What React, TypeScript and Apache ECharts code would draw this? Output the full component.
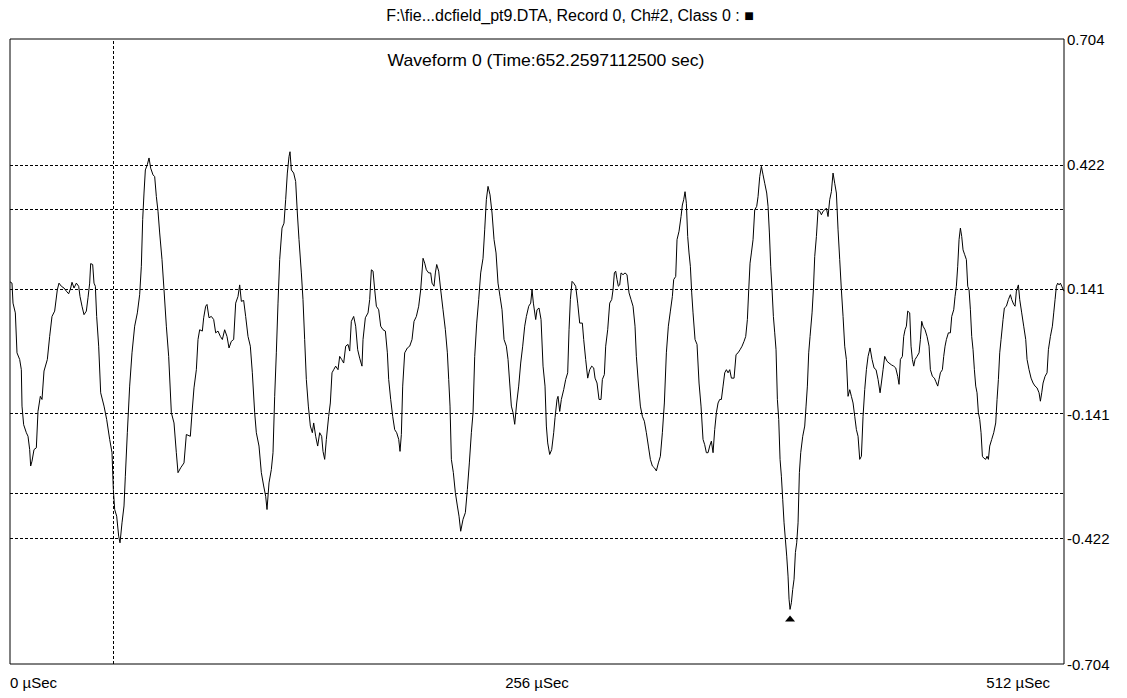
import React, { useEffect, useRef } from "react";
import * as echarts from "echarts";

const chartTitle = "F:\\fie...dcfield_pt9.DTA, Record 0, Ch#2, Class 0 : ■";
const waveformTitle = "Waveform 0 (Time:652.2597112500 sec)";
const xTickValues = [0, 256, 512];
const xUnit = "µSec";
const yTickValues = [-0.704, -0.422, -0.141, 0.141, 0.422, 0.704];
const gridLineValues = [0.422, 0.316, 0.141, -0.141, -0.316, -0.422];
const cursorTime = 50;
const minMarker: [number, number] = [378.92, -0.581];

// waveform samples [time µs, value]
const wave1: [number, number][] = [
  [0, 0.157], [0.97, 0.154], [1.46, 0.109], [2.59, 0.087], [3.4, -0.003], [4.7, -0.018], [5.51, -0.041], [5.83, -0.123],
  [6.64, -0.165], [7.94, -0.183], [8.75, -0.191], [9.56, -0.221], [10.04, -0.258], [10.69, -0.247], [11.66, -0.221],
  [12.79, -0.217], [13.6, -0.135], [14.74, -0.101], [15.55, -0.108], [16.52, -0.044], [18.14, -0.018], [19.27, 0.034],
  [20.4, 0.079], [21.7, 0.091], [22.99, 0.139], [23.8, 0.154], [24.94, 0.147], [26.23, 0.143], [27.37, 0.136],
  [28.5, 0.13], [29.47, 0.143], [30.12, 0.156], [31.09, 0.143], [32.23, 0.154], [33.36, 0.147], [34.01, 0.124],
  [34.98, 0.102], [35.95, 0.083], [37.08, 0.091], [37.89, 0.121], [38.7, 0.154], [39.19, 0.198], [40.16, 0.196],
  [40.81, 0.154], [41.46, 0.147], [42.1, 0.079], [43.08, 0.012], [44.05, -0.093], [45.67, -0.123], [46.96, -0.153],
  [48.42, -0.198], [49.55, -0.228], [50.2, -0.311], [50.85, -0.356], [51.82, -0.371], [52.79, -0.416], [53.44, -0.431],
  [54.41, -0.386], [55.38, -0.348], [56.03, -0.281], [57.0, -0.183], [58.13, -0.078], [59.27, -0.003], [60.56, 0.057],
  [61.86, 0.087], [62.99, 0.128], [63.8, 0.192], [64.45, 0.297], [65.1, 0.357], [65.75, 0.409], [66.72, 0.421],
  [67.53, 0.436], [68.34, 0.413], [69.47, 0.398], [70.28, 0.394], [71.09, 0.349], [71.9, 0.316], [72.71, 0.267],
  [73.84, 0.207], [74.81, 0.139], [75.95, 0.057], [77.08, -0.011], [78.38, -0.138], [79.67, -0.161], [80.8, -0.228],
  [81.61, -0.273], [82.91, -0.262], [84.53, -0.251], [85.66, -0.187],
];
const wave2: [number, number][] = [
  [87.6, -0.191], [88.41, -0.138], [89.38, -0.082], [90.52, -0.041], [91.33, 0.027], [92.14, 0.049], [93.43, 0.046],
  [94.08, 0.076], [95.05, 0.102], [95.7, 0.106], [96.67, 0.076], [97.8, 0.079], [98.94, 0.072], [99.91, 0.042],
  [101.04, 0.046], [102.18, 0.034], [103.15, 0.027], [104.28, 0.049], [105.41, 0.034], [106.39, 0.008], [107.52, 0.023],
  [108.65, 0.027], [109.63, 0.109], [110.76, 0.124], [111.57, 0.15], [112.38, 0.113], [113.51, 0.115], [114.48, 0.079],
  [115.62, 0.034], [116.75, 0.012], [117.72, -0.048], [118.86, -0.138], [119.66, -0.183], [120.96, -0.213],
  [122.09, -0.273], [123.23, -0.303], [124.2, -0.326], [124.85, -0.356], [125.82, -0.296], [126.95, -0.266],
  [127.76, -0.228], [128.57, -0.101], [129.38, -0.003], [130.19, 0.109], [131.0, 0.207], [132.13, 0.278], [133.1, 0.289],
  [133.91, 0.342], [134.72, 0.402], [135.53, 0.439], [136.02, 0.45], [136.67, 0.409], [137.8, 0.402], [138.77, 0.383],
  [139.58, 0.312], [140.39, 0.252], [141.53, 0.177], [142.33, 0.117], [143.14, 0.027], [143.95, -0.063],
  [144.93, -0.123], [145.9, -0.168], [146.87, -0.183], [147.52, -0.161], [148.49, -0.191], [149.46, -0.213],
  [150.43, -0.183], [151.4, -0.191], [152.05, -0.225], [152.86, -0.243], [153.67, -0.198], [154.8, -0.146],
  [155.61, -0.116], [156.42, -0.048], [157.23, -0.041], [158.2, -0.033], [159.34, -0.041], [160.15, -0.011],
  [161.12, -0.018], [162.09, -0.026], [163.06, 0.012], [164.2, 0.016], [165.01, 0.001], [165.81, 0.068], [166.95, 0.079],
  [167.92, 0.057], [168.89, 0.004], [169.86, -0.015], [170.98, -0.033],
];
const wave3: [number, number][] = [
  [171.49, 0.027], [172.62, 0.076], [173.92, 0.087], [174.73, 0.117], [175.54, 0.184], [176.35, 0.181], [177.16, 0.139],
  [177.97, 0.102], [179.1, 0.094], [180.07, 0.057], [181.2, 0.049], [182.34, 0.046], [183.31, -0.003], [183.96, -0.063],
  [184.93, -0.108], [185.9, -0.146], [186.87, -0.176], [187.84, -0.183], [188.82, -0.198], [189.46, -0.225],
  [190.11, -0.187], [190.76, -0.078], [191.73, -0.003], [193.03, 0.008], [194.16, 0.012], [195.29, 0.027],
  [196.26, 0.068], [197.4, 0.079], [198.53, 0.102], [199.5, 0.139], [200.64, 0.21], [201.45, 0.199], [202.26, 0.184],
  [203.39, 0.177], [204.36, 0.177], [205.01, 0.154], [205.98, 0.147], [206.63, 0.177], [207.28, 0.196], [208.25, 0.181],
  [209.22, 0.139], [210.35, 0.094], [211.49, 0.049], [212.46, -0.003], [213.11, -0.063], [213.75, -0.123],
  [214.4, -0.243], [215.37, -0.273], [216.34, -0.318], [217.32, -0.348], [218.12, -0.371], [218.93, -0.405],
  [220.07, -0.378], [221.2, -0.363], [222.17, -0.311], [223.14, -0.251], [224.12, -0.183], [224.93, -0.138],
  [225.74, -0.011], [226.71, 0.064], [227.68, 0.117], [228.65, 0.177], [229.78, 0.21], [230.59, 0.274], [231.4, 0.342],
  [232.21, 0.372], [233.18, 0.353], [234.16, 0.312], [235.13, 0.252], [236.1, 0.222], [237.07, 0.154], [238.04, 0.124],
  [239.01, 0.094], [239.99, 0.027], [241.12, 0.012], [241.93, -0.018], [242.74, -0.071], [243.55, -0.123],
  [244.36, -0.138], [245.17, -0.164], [246.14, -0.116], [247.11, -0.078], [248.08, -0.026], [249.05, 0.012],
  [250.03, 0.057], [250.84, 0.079], [251.97, 0.102], [252.94, 0.109], [253.59, 0.139], [254.24, 0.109],
];
const wave4: [number, number][] = [
  [255.37, 0.072], [256.01, 0.094], [256.98, 0.098], [257.96, 0.072], [258.93, -0.033], [259.9, -0.078],
  [260.55, -0.168], [261.2, -0.206], [262.17, -0.232], [263.14, -0.221], [264.11, -0.183], [264.76, -0.149],
  [265.73, -0.108], [266.21, -0.101], [267.03, -0.135], [267.83, -0.108], [268.97, -0.086], [269.94, -0.063],
  [270.91, -0.048], [271.56, 0.049], [272.21, 0.117], [273.02, 0.158], [273.83, 0.154], [274.8, 0.147], [275.77, 0.109],
  [276.74, 0.064], [278.03, 0.064], [278.68, 0.027], [279.65, -0.018], [280.63, -0.06], [281.6, -0.041],
  [282.57, -0.033], [283.54, -0.037], [284.19, -0.06], [285.16, -0.071], [286.13, -0.108], [287.1, -0.108],
  [287.75, -0.063], [288.72, -0.052], [289.37, 0.012], [290.34, 0.049], [291.31, 0.109], [292.29, 0.117],
  [292.93, 0.139], [293.58, 0.177], [294.23, 0.181], [294.88, 0.162], [295.52, 0.147], [296.17, 0.15], [296.82, 0.177],
  [297.79, 0.173], [298.76, 0.177], [299.73, 0.173], [300.71, 0.132], [301.68, 0.117], [302.65, 0.102], [303.62, 0.057],
  [304.27, -0.011], [305.24, -0.071], [306.21, -0.123], [307.18, -0.146], [308.15, -0.157], [309.13, -0.183],
  [310.1, -0.213], [311.07, -0.243], [312.04, -0.258], [313.01, -0.262], [313.98, -0.269], [314.96, -0.251],
  [315.93, -0.236], [316.9, -0.183], [317.87, -0.116], [318.84, -0.003], [319.81, 0.057], [320.79, 0.091],
  [321.76, 0.124], [322.4, 0.162], [323.38, 0.169], [324.02, 0.252], [325.0, 0.271], [325.97, 0.304], [326.61, 0.33],
  [327.26, 0.342], [327.91, 0.36], [328.56, 0.334], [329.2, 0.259], [329.85, 0.222], [330.5, 0.192], [331.15, 0.132],
  [331.8, 0.087], [332.77, 0.027], [333.74, 0.016], [334.71, -0.071], [335.68, -0.123], [336.65, -0.198],
  [337.46, -0.21], [338.27, -0.228],
];
const wave5: [number, number][] = [
  [339.09, -0.228], [339.9, -0.213], [340.71, -0.202], [341.52, -0.228], [342.33, -0.176], [343.14, -0.138],
  [343.95, -0.116], [344.76, -0.108], [345.57, -0.108], [346.38, -0.078], [347.19, -0.048], [348.0, -0.041],
  [348.81, -0.048], [349.62, -0.041], [350.43, -0.06], [351.72, -0.06], [352.69, -0.007], [353.66, -0.003],
  [354.64, 0.004], [355.61, 0.012], [356.58, 0.023], [357.39, 0.034], [358.2, 0.072], [358.85, 0.139], [359.49, 0.199],
  [360.14, 0.222], [360.95, 0.252], [361.76, 0.319], [362.73, 0.327], [363.38, 0.349], [364.19, 0.394], [365.0, 0.417],
  [365.81, 0.398], [366.62, 0.379], [367.59, 0.357], [368.24, 0.327], [368.89, 0.267], [369.53, 0.192], [370.18, 0.139],
  [370.83, 0.079], [371.48, 0.042], [372.12, 0.004], [372.77, -0.108], [373.42, -0.153], [374.07, -0.243],
  [374.71, -0.281], [375.36, -0.333], [376.01, -0.386], [376.66, -0.423], [377.31, -0.461], [377.95, -0.506],
  [378.44, -0.558], [378.92, -0.581], [379.57, -0.566], [380.22, -0.536], [380.87, -0.513], [381.52, -0.453],
  [382.16, -0.431], [382.81, -0.386], [383.46, -0.273], [384.11, -0.228], [385.08, -0.191], [386.05, -0.168],
  [386.7, -0.123], [387.34, -0.078], [387.99, -0.003], [388.64, 0.034], [389.61, 0.087], [390.26, 0.139],
  [390.91, 0.214], [391.72, 0.259], [392.53, 0.319], [393.34, 0.316], [394.15, 0.308], [394.96, 0.316], [395.77, 0.319],
  [396.58, 0.323], [397.38, 0.304], [398.19, 0.342], [399.0, 0.36], [399.81, 0.402], [400.62, 0.379], [401.43, 0.357],
  [402.24, 0.274], [403.05, 0.207], [403.86, 0.139], [404.67, 0.079], [405.48, 0.012], [406.29, -0.018],
  [407.1, -0.101], [407.91, -0.086], [408.72, -0.101], [409.53, -0.116], [410.34, -0.146], [411.15, -0.176],
  [411.96, -0.191], [412.77, -0.243], [413.58, -0.236], [414.39, -0.146], [415.2, -0.086], [416.01, -0.041],
  [416.82, -0.011], [417.79, 0.008], [418.76, -0.018], [419.73, -0.037], [420.7, -0.041], [421.67, -0.063],
  [422.65, -0.093], [423.29, -0.071],
];
const wave6: [number, number][] = [
  [424.1, -0.041], [424.91, -0.011], [426.04, -0.022], [427.01, -0.026], [428.15, -0.03], [429.28, -0.033],
  [430.25, -0.037], [431.22, -0.056], [431.87, -0.074], [432.52, -0.018], [433.49, -0.011], [434.14, 0.034],
  [434.79, 0.049], [435.44, 0.057], [436.08, 0.091], [437.05, 0.087], [437.7, 0.012], [438.35, -0.018], [439.0, -0.033],
  [439.65, -0.018], [440.62, -0.011], [441.59, -0.003], [442.24, 0.027], [442.88, 0.068], [443.53, 0.057],
  [444.5, 0.049], [445.47, 0.034], [446.45, 0.012], [447.09, -0.041], [448.07, -0.056], [449.04, -0.06],
  [449.68, -0.067], [450.66, -0.078], [451.3, -0.063], [451.95, -0.048], [452.92, -0.041], [453.57, -0.011],
  [454.22, 0.012], [454.87, 0.027], [455.84, 0.042], [456.81, 0.042], [457.46, 0.079], [458.43, 0.094], [459.08, 0.124],
  [459.72, 0.147], [460.37, 0.192], [461.02, 0.252], [461.67, 0.278], [462.32, 0.259], [462.96, 0.229], [463.77, 0.218],
  [464.58, 0.207], [465.23, 0.147], [465.88, 0.139], [466.53, 0.094], [467.17, 0.034], [467.82, 0.004],
  [468.47, -0.041], [469.12, -0.078], [469.76, -0.093], [470.41, -0.138], [471.06, -0.153], [471.71, -0.183],
  [472.36, -0.236], [473.0, -0.24], [473.97, -0.243], [474.62, -0.236], [475.27, -0.243], [475.92, -0.213],
  [476.89, -0.198], [477.86, -0.183], [478.83, -0.161], [479.48, -0.108], [480.13, -0.063], [480.78, -0.003],
  [481.42, 0.027], [482.39, 0.072], [483.04, 0.098], [484.01, 0.102], [484.99, 0.117], [485.96, 0.128], [486.61, 0.117],
  [487.58, 0.106], [488.22, 0.102], [488.87, 0.136], [489.84, 0.15], [490.49, 0.117], [491.46, 0.087], [492.43, 0.057],
  [493.41, 0.027], [494.05, -0.018], [495.02, -0.041], [496.0, -0.06], [496.97, -0.071], [497.94, -0.078],
  [498.91, -0.082], [499.88, -0.093], [500.53, -0.112], [501.18, -0.093], [501.83, -0.071], [502.8, -0.056],
  [503.77, -0.048], [504.42, 0.004], [505.39, 0.034], [506.36, 0.057], [507.01, 0.087], [507.66, 0.117],
  [508.3, 0.147], [508.95, 0.154], [509.6, 0.15], [510.25, 0.154], [510.9, 0.147], [512, 0.136],
];

const FONT = '"Liberation Sans", Arial, sans-serif';

export default function App() {
  const ref = useRef<HTMLDivElement>(null);
  useEffect(() => {
    if (!ref.current) return;
    const chart = echarts.init(ref.current, null, { renderer: "svg" });
    const data = [...wave1, ...wave2, ...wave3, ...wave4, ...wave5, ...wave6];
    const dashed = { color: "#000", width: 1, type: [3, 2] as any };
    const xMax = xTickValues[xTickValues.length - 1];
    chart.setOption({
      animation: false,
      backgroundColor: "#fff",
      grid: {
        left: 10, right: 63, top: 39, bottom: 34,
        show: true, borderColor: "#000", borderWidth: 1, backgroundColor: "transparent",
      },
      xAxis: {
        type: "value", min: xTickValues[0], max: xMax,
        interval: xTickValues[1] - xTickValues[0],
        axisLine: { show: false }, axisTick: { show: false }, splitLine: { show: false },
        axisLabel: {
          formatter: (v: number) => (v === xMax ? `{last|${v} ${xUnit}}` : `${v} ${xUnit}`),
          rich: { last: { fontFamily: FONT, fontSize: 15, color: "#000", padding: [0, 14, 0, 0] } },
          color: "#000", fontFamily: FONT, fontSize: 15, margin: 11,
          alignMinLabel: "left", alignMaxLabel: "right",
        },
      },
      yAxis: {
        type: "value", position: "right", min: -0.704, max: 0.704,
        axisLine: { show: false }, axisTick: { show: false }, splitLine: { show: false },
        axisLabel: {
          customValues: yTickValues,
          formatter: (v: number) => v.toFixed(3),
          color: "#000", fontFamily: FONT, fontSize: 15, margin: 3,
          showMinLabel: true, showMaxLabel: true,
        },
      },
      series: [
        {
          type: "line", data, symbol: "none", showSymbol: false,
          lineStyle: { color: "#000", width: 1 },
          silent: true,
          markLine: {
            silent: true, symbol: ["none", "none"], label: { show: false },
            lineStyle: dashed, emphasis: { disabled: true },
            data: [
              ...gridLineValues.map((v) => ({ yAxis: v })),
              { xAxis: cursorTime },
            ],
          },
          markPoint: {
            silent: true,
            data: [{
              coord: minMarker, symbol: "triangle", symbolSize: [10, 6], symbolOffset: [0, 9],
              itemStyle: { color: "#000" }, label: { show: false },
            }],
          },
        },
      ],
      graphic: [
        {
          type: "text", x: 570, y: 15,
          style: { text: chartTitle, font: `16px ${FONT}`, fill: "#000", align: "center", verticalAlign: "middle" },
        },
        {
          type: "text", x: 546, y: 61, scaleX: 1.1,
          style: { text: waveformTitle, font: `16px ${FONT}`, fill: "#000", align: "center", verticalAlign: "middle" },
        },
      ],
    });
    return () => chart.dispose();
  }, []);
  return (
    <div
      ref={ref}
      style={{ position: "fixed", left: 0, top: 0, width: 1127, height: 698, background: "#fff" }}
    />
  );
}
